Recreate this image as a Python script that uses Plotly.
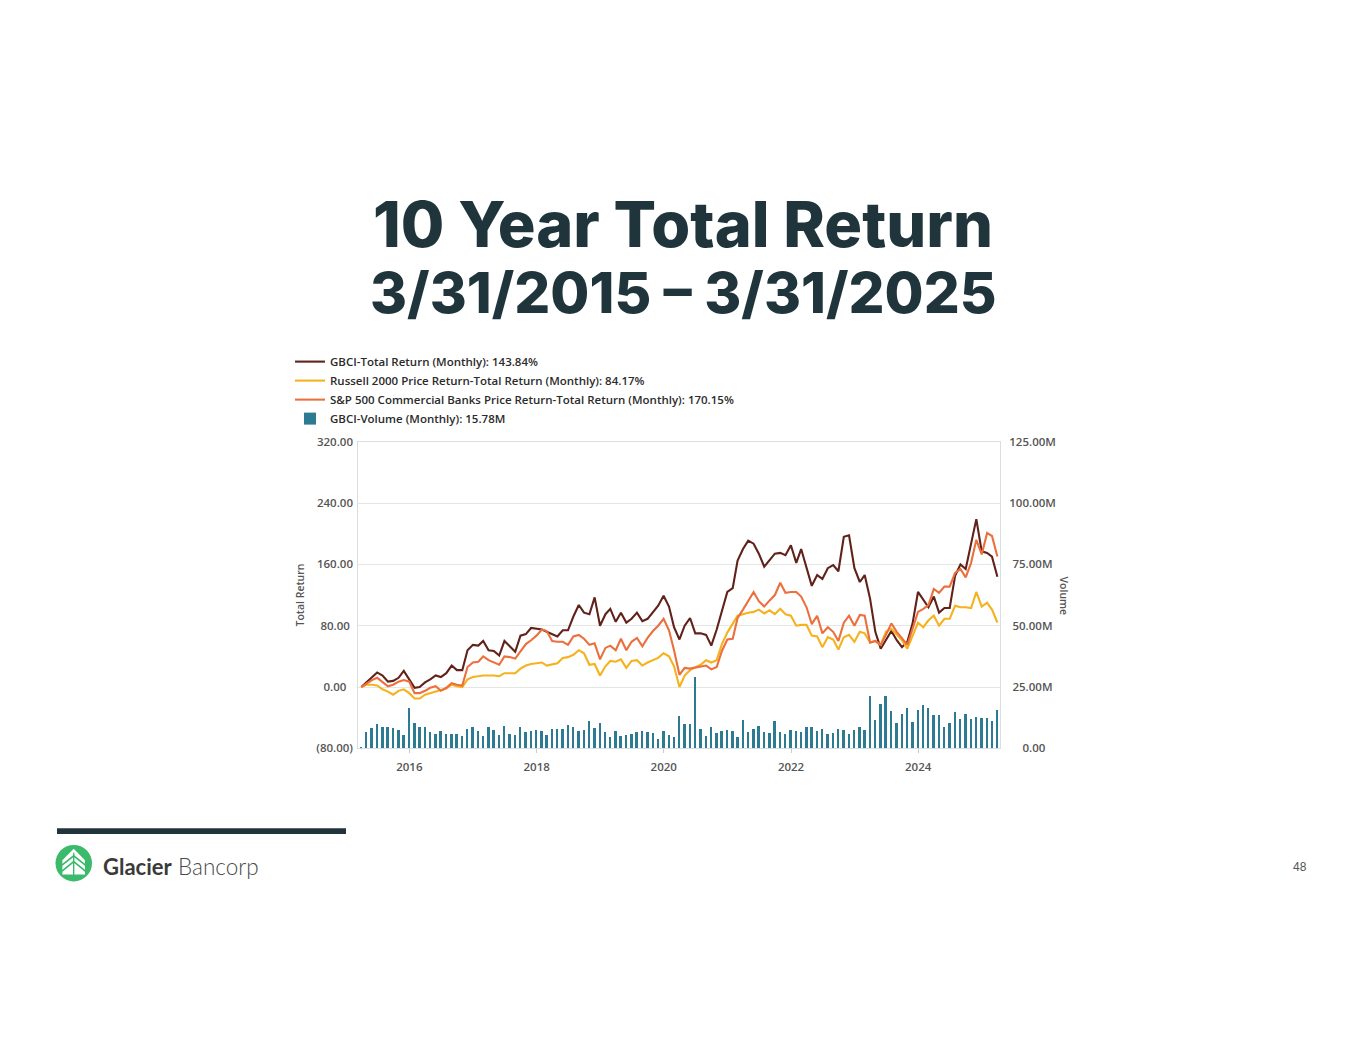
import pandas as pd
import plotly.graph_objects as go

W, H = 1365, 1055

dates = pd.date_range("2015-03-31", periods=121, freq="ME")

gbci_total_return = [
    0, 6, 13, 19, 15, 7, 8, 12, 21, 10,
    -1, 0, 6, 10, 15, 13, 18, 28, 22, 22,
    48, 55, 54, 60, 48, 47, 41, 60, 53, 46,
    67, 69, 77, 76, 75, 72, 69, 66, 74, 74,
    92, 107, 97, 95, 117, 80, 95, 102, 85, 97,
    84, 89, 97, 86, 89, 98, 106, 119, 105, 78,
    62, 80, 90, 70, 70, 68, 54, 75, 100, 124,
    129, 165, 180, 191, 187, 174, 157, 165, 174, 175,
    172, 185, 162, 180, 157, 132, 146, 141, 155, 159,
    151, 196, 198, 155, 137, 146, 115, 72, 50, 61,
    73, 61, 52, 59, 83, 124, 113, 104, 118, 97,
    103, 103, 145, 160, 154, 188, 219, 177, 175, 170, 143.84,
]

russell_total_return = [
    0, 3, 3, 2, -3, -6, -10, -5, -3, -8,
    -15, -15, -10, -8, -5, -4, -2, 3, 1, 0,
    10, 13, 14, 15, 15, 15, 14, 18, 18, 18,
    24, 28, 30, 31, 32, 28, 30, 31, 38, 39,
    42, 48, 44, 29, 30, 15, 27, 34, 33, 36,
    25, 34, 35, 28, 32, 35, 38, 44, 40, 27,
    0, 15, 22, 26, 29, 35, 32, 35, 56, 71,
    82, 93, 95, 97, 98, 101, 96, 100, 95, 102,
    95, 93, 80, 81, 81, 67, 66, 52, 65, 62,
    49, 65, 68, 59, 72, 70, 58, 60, 55, 72,
    76, 68, 61, 50, 67, 84, 78, 87, 93, 80,
    89, 89, 106, 104, 104, 103, 124, 105, 110, 101, 84.17,
]

banks_total_return = [
    0, 5, 9, 12, 7, 1, 3, 7, 9, 7,
    -8, -8, -5, -1, 1, -5, -1, 5, 3, 2,
    26, 32, 33, 40, 35, 32, 29, 40, 39, 37,
    47, 56, 61, 67, 75, 73, 60, 59, 59, 55,
    66, 68, 63, 55, 57, 36, 51, 54, 48, 63,
    48, 59, 64, 53, 64, 73, 80, 89, 74, 48,
    16, 25, 24, 25, 26, 28, 23, 26, 47, 62,
    63, 90, 101, 112, 124, 112, 105, 113, 120, 136,
    123, 124, 124, 118, 104, 82, 93, 70, 78, 72,
    60, 84, 93, 80, 94, 93, 58, 60, 55, 68,
    83, 72, 63, 55, 76, 98, 102, 107, 128, 123,
    131, 131, 149, 154, 143, 162, 192, 173, 201, 197, 170.15,
]

gbci_volume_m = [
    0.5, 6.6, 8.3, 10.1, 8.7, 8.6, 8.2, 7.4, 5.5, 16.4,
    10.6, 8.6, 8.6, 6.9, 6.0, 7.3, 5.9, 5.9, 5.9, 5.0,
    8.1, 8.7, 7.3, 5.0, 8.6, 7.4, 5.6, 9.4, 6.0, 5.4,
    8.6, 6.7, 7.0, 7.7, 7.3, 5.4, 8.1, 8.1, 7.9, 9.5,
    9.0, 7.0, 7.4, 11.4, 8.3, 10.3, 6.7, 4.7, 7.3, 5.2,
    5.6, 6.0, 6.6, 7.0, 6.7, 6.3, 4.0, 7.3, 5.4, 4.6,
    13.1, 10.0, 10.0, 29.3, 8.0, 5.3, 9.0, 6.3, 7.2, 7.6,
    7.2, 4.9, 11.6, 6.7, 8.0, 9.4, 6.7, 6.3, 11.4, 6.7,
    5.9, 7.6, 7.2, 6.7, 9.0, 8.6, 7.2, 8.0, 5.9, 6.3,
    8.0, 7.4, 5.9, 7.6, 8.6, 7.6, 21.4, 11.6, 18.3, 21.4,
    15.4, 10.3, 14.0, 16.7, 10.7, 15.9, 17.9, 16.7, 13.6, 13.6,
    8.6, 10.3, 15.0, 12.0, 14.0, 12.0, 12.7, 12.3, 12.3, 11.2, 15.78,
]

series_names = [
    "GBCI-Total Return (Monthly): 143.84%",
    "Russell 2000 Price Return-Total Return (Monthly): 84.17%",
    "S&P 500 Commercial Banks Price Return-Total Return (Monthly): 170.15%",
    "GBCI-Volume (Monthly): 15.78M",
]

return_tick_vals = [-80, 0, 80, 160, 240, 320]
return_tick_text = ["(80.00)", "0.00\u2007", "80.00\u2008", "160.00", "240.00", "320.00"]
volume_tick_vals = [0, 25, 50, 75, 100, 125]
volume_tick_text = ["\u2007\u20070.00", "\u200825.00M", "\u200850.00M", "\u200875.00M", "100.00M", "125.00M"]
year_tick_vals = ["2016-01-01", "2018-01-01", "2020-01-01", "2022-01-01", "2024-01-01"]
year_tick_text = ["2016", "2018", "2020", "2022", "2024"]

C_GBCI = "#60221A"
C_RUS = "#F5B21E"
C_SPB = "#EC703E"
C_VOL = "#2D7B92"
C_DARK = "#1F343B"
C_GREEN = "#3CBA6B"


def px(x):
    return x / W


def py(y):
    return 1 - y / H


fig = go.Figure()

fig.add_trace(go.Bar(
    x=dates, y=[v * 1e6 for v in gbci_volume_m], name=series_names[3],
    marker=dict(color=C_VOL, line=dict(width=0)), width=11 * 86400000,
    xaxis="x", yaxis="y", legendrank=4,
))
fig.add_trace(go.Scatter(
    x=dates, y=gbci_total_return, name=series_names[0], mode="lines",
    line=dict(color=C_GBCI, width=2.1), xaxis="x", yaxis="y2", legendrank=1,
))
fig.add_trace(go.Scatter(
    x=dates, y=russell_total_return, name=series_names[1], mode="lines",
    line=dict(color=C_RUS, width=2.1), xaxis="x", yaxis="y2", legendrank=2,
))
fig.add_trace(go.Scatter(
    x=dates, y=banks_total_return, name=series_names[2], mode="lines",
    line=dict(color=C_SPB, width=2.1), xaxis="x", yaxis="y2", legendrank=3,
))

tick_font = dict(family="Open Sans", size=11.5, color="#555555", weight=600)
frame = "#D8DEE3"

fig.update_layout(
    width=W, height=H, autosize=False,
    margin=dict(l=0, r=0, t=0, b=0),
    paper_bgcolor="white", plot_bgcolor="white",
    showlegend=True,
    legend=dict(
        x=px(290), y=py(344), xanchor="left", yanchor="top",
        font=dict(family="Open Sans", size=11.5, color="#2B2B2B", weight=600),
        bgcolor="rgba(0,0,0,0)", itemwidth=30, tracegroupgap=0,
        traceorder="normal",
    ),
    bargap=0,
    xaxis=dict(
        domain=[px(358), px(1000)], type="date",
        range=["2015-03-12", "2025-04-15"],
        tickvals=year_tick_vals, ticktext=year_tick_text,
        ticks="outside", ticklen=4, tickcolor="#CCCCCC",
        showline=True, linecolor=frame, mirror=True, showgrid=False,
        tickfont=tick_font, ticklabelstandoff=4, anchor="y", fixedrange=True,
    ),
    yaxis=dict(
        domain=[py(751), py(440)], side="right",
        range=[0, 125e6], tickvals=[v * 1e6 for v in volume_tick_vals],
        ticktext=volume_tick_text,
        showgrid=True, gridcolor="#E6E6E6", gridwidth=1, zeroline=False,
        showline=True, linecolor=frame, mirror=True,
        tickfont=tick_font, ticklabelstandoff=6, fixedrange=True,
    ),
    yaxis2=dict(
        overlaying="y", side="left", range=[-80, 320],
        tickvals=return_tick_vals, ticktext=return_tick_text,
        showgrid=False, zeroline=False, showline=False,
        tickfont=tick_font, ticklabelstandoff=4, fixedrange=True,
    ),
)

annotations = [
    dict(text="10 Year Total Return", x=px(683), y=py(219), xref="paper", yref="paper",
         xanchor="center", yanchor="middle", showarrow=False,
         font=dict(family="Inter", size=63, color=C_DARK, weight=800)),
    dict(text="3/31/2015 \u2013 3/31/2025", x=px(683), y=py(289), xref="paper", yref="paper",
         xanchor="center", yanchor="middle", showarrow=False,
         font=dict(family="Inter", size=56.5, color=C_DARK, weight=800)),
    dict(text="Total Return", x=px(300), y=py(596), xref="paper", yref="paper",
         textangle=-90, xanchor="center", yanchor="middle", showarrow=False,
         font=dict(family="Open Sans", size=10.5, color="#555555", weight=600)),
    dict(text="Volume", x=px(1064), y=py(596), xref="paper", yref="paper",
         textangle=90, xanchor="center", yanchor="middle", showarrow=False,
         font=dict(family="Open Sans", size=10.5, color="#555555", weight=600)),
    dict(text="Glacier", x=px(101), y=py(871), xref="paper", yref="paper",
         xanchor="left", yanchor="middle", showarrow=False,
         font=dict(family="Lato", size=22, color="#3A3A3A", weight=700)),
    dict(text="Bancorp", x=px(176), y=py(871), xref="paper", yref="paper",
         xanchor="left", yanchor="middle", showarrow=False,
         font=dict(family="Lato", size=22.5, color="#4A4A4A", weight=300)),
    dict(text="48", x=px(1300), y=py(871), xref="paper", yref="paper",
         xanchor="center", yanchor="middle", showarrow=False,
         font=dict(family="Liberation Sans", size=12, color="#555555")),
]
fig.update_layout(annotations=annotations)


def path(points, close=True):
    s = "M " + " L ".join(f"{px(x):.5f},{py(y):.5f}" for x, y in points)
    return s + (" Z" if close else "")


shapes = [
    dict(type="rect", xref="paper", yref="paper", x0=px(57), x1=px(346), y0=py(838), y1=py(832),
         fillcolor=C_DARK, line=dict(width=0), layer="above"),
    dict(type="circle", xref="paper", yref="paper", x0=px(55.5), x1=px(92), y0=py(886), y1=py(849),
         fillcolor=C_GREEN, line=dict(width=0), layer="above"),
    dict(type="path", xref="paper", yref="paper",
         path=path([(73.7, 853), (85, 864.5), (85, 879), (62.4, 879), (62.4, 864.5)]),
         fillcolor="white", line=dict(width=0), layer="above"),
    dict(type="path", xref="paper", yref="paper",
         path=path([(62, 869.5), (73.7, 860), (85.4, 869.5)], close=False),
         line=dict(color=C_GREEN, width=1.7), layer="above"),
    dict(type="path", xref="paper", yref="paper",
         path=path([(62, 875.5), (73.7, 866), (85.4, 875.5)], close=False),
         line=dict(color=C_GREEN, width=1.7), layer="above"),
    dict(type="line", xref="paper", yref="paper", x0=px(73.7), x1=px(73.7), y0=py(857), y1=py(880),
         line=dict(color=C_GREEN, width=1.4), layer="above"),
]
fig.update_layout(shapes=shapes)

fig.write_html(
    "out.html",
    config={"displayModeBar": False},
    post_script="document.body.style.margin='0';document.body.style.overflow='hidden';",
)
